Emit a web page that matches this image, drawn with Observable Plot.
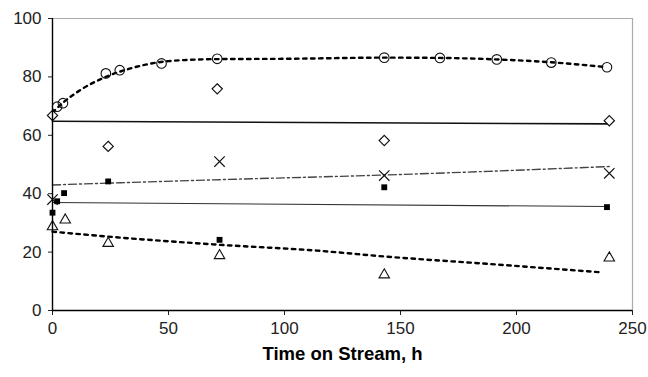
<!DOCTYPE html>
<html>
<head>
<meta charset="utf-8">
<script src="https://cdn.jsdelivr.net/npm/d3@7"></script>
<script src="https://cdn.jsdelivr.net/npm/@observablehq/plot@0.6"></script>
<style>
  html, body { margin: 0; padding: 0; background: #fff; }
  #chart svg { display: block; font-family: "Liberation Sans", Arial, sans-serif; }
</style>
</head>
<body>
<div id="chart"></div>
<script>
// Measured conversion (%) against time on stream (h) for five series
const circleT = [2, 4.5, 23, 29, 47, 71, 143, 167, 191.5, 215, 239];
const circleV = [69.8, 71, 81.2, 82.3, 84.6, 86.2, 86.6, 86.5, 86, 84.9, 83.3];

const diamondT = [0, 24, 71, 143, 240];
const diamondV = [66.8, 56.2, 75.9, 58.2, 65];

const crossT = [0, 72, 143, 240];
const crossV = [38, 51, 46.2, 47];

const squareT = [0, 2, 5, 24, 72, 143, 239];
const squareV = [33.5, 37.4, 40.2, 44.2, 24.2, 42.2, 35.4];

const triangleT = [0, 5.5, 24, 72, 143, 240];
const triangleV = [28.7, 31, 23, 18.8, 12.2, 18];

// Trend lines
const circleFitT = [0, 5, 12, 23, 35, 50, 71, 100, 143, 167, 191, 215, 238];
const circleFitV = [67.8, 71.5, 75.5, 80, 83.2, 85.4, 86.1, 86.2, 86.6, 86.5, 86, 85, 83.4];

const diamondFitT = [0, 240];
const diamondFitV = [64.8, 63.9];

const crossFitT = [0, 72, 143, 240];
const crossFitV = [43, 44.8, 46.4, 49.3];

const squareFitT = [0, 239];
const squareFitV = [37, 35.6];

const triangleFitT = [0, 24, 72, 114, 143, 187, 236];
const triangleFitV = [27, 25.3, 22.5, 20.5, 18.5, 16, 13.1];

const xTicks = [0, 50, 100, 150, 200, 250];
const yTicks = [0, 20, 40, 60, 80, 100];

const pts = (t, v) => t.map((x, i) => ({x, y: v[i]}));

const chart = Plot.plot({
  width: 648,
  height: 377,
  marginLeft: 52,
  marginRight: 16,
  marginTop: 18,
  marginBottom: 67,
  x: {domain: [0, 250]},
  y: {domain: [0, 100]},
  marks: [
    // light frame on top and right
    Plot.ruleY([100], {stroke: "#aaa", strokeWidth: 1.2}),
    Plot.ruleX([250], {stroke: "#aaa", strokeWidth: 1.2}),

    // trend lines
    Plot.line(pts(circleFitT, circleFitV), {x: "x", y: "y", curve: "monotone-x", stroke: "#000", strokeWidth: 2.4, strokeDasharray: "3.5,4.5"}),
    Plot.line(pts(triangleFitT, triangleFitV), {x: "x", y: "y", curve: "monotone-x", stroke: "#000", strokeWidth: 2.4, strokeDasharray: "3.5,4.5"}),
    Plot.line(pts(diamondFitT, diamondFitV), {x: "x", y: "y", stroke: "#111", strokeWidth: 1.6}),
    Plot.line(pts(squareFitT, squareFitV), {x: "x", y: "y", stroke: "#333", strokeWidth: 1.1}),
    Plot.line(pts(crossFitT, crossFitV), {x: "x", y: "y", curve: "monotone-x", stroke: "#444", strokeWidth: 1.4, strokeDasharray: "8,3,2,3"}),

    // data points
    Plot.dot(pts(circleT, circleV), {x: "x", y: "y", symbol: "circle", r: 4.8, stroke: "#111", strokeWidth: 1.1, fill: "none"}),
    Plot.dot(pts(diamondT, diamondV), {x: "x", y: "y", symbol: "diamond2", r: 4.6, stroke: "#111", strokeWidth: 1.2, fill: "white"}),
    Plot.dot(pts(crossT, crossV), {x: "x", y: "y", symbol: "times", r: 4.8, stroke: "#111", strokeWidth: 1.2}),
    Plot.dot(pts(squareT, squareV), {x: "x", y: "y", symbol: "square", r: 3.3, fill: "#000", stroke: "none"}),
    Plot.dot(pts(triangleT, triangleV), {x: "x", y: "y", symbol: "triangle2", r: 5, stroke: "#111", strokeWidth: 1.1, fill: "none"}),

    // axes
    Plot.axisY(yTicks, {ticks: yTicks, tickSize: 4, tickPadding: 7, fontSize: 17, color: "#222", label: null, tickFormat: d => d}),
    Plot.axisX(xTicks, {ticks: xTicks, tickSize: 5, tickPadding: 6, fontSize: 17, color: "#222", label: null, tickFormat: d => d}),
    Plot.ruleX([0], {stroke: "#000", strokeWidth: 1.4}),
    Plot.ruleY([0], {stroke: "#000", strokeWidth: 1.4}),

    Plot.text(["Time on Stream, h"], {frameAnchor: "bottom", dy: 49, fontSize: 18.5, fontWeight: "bold", fill: "#000"})
  ]
});

document.getElementById("chart").appendChild(chart);
</script>
</body>
</html>
